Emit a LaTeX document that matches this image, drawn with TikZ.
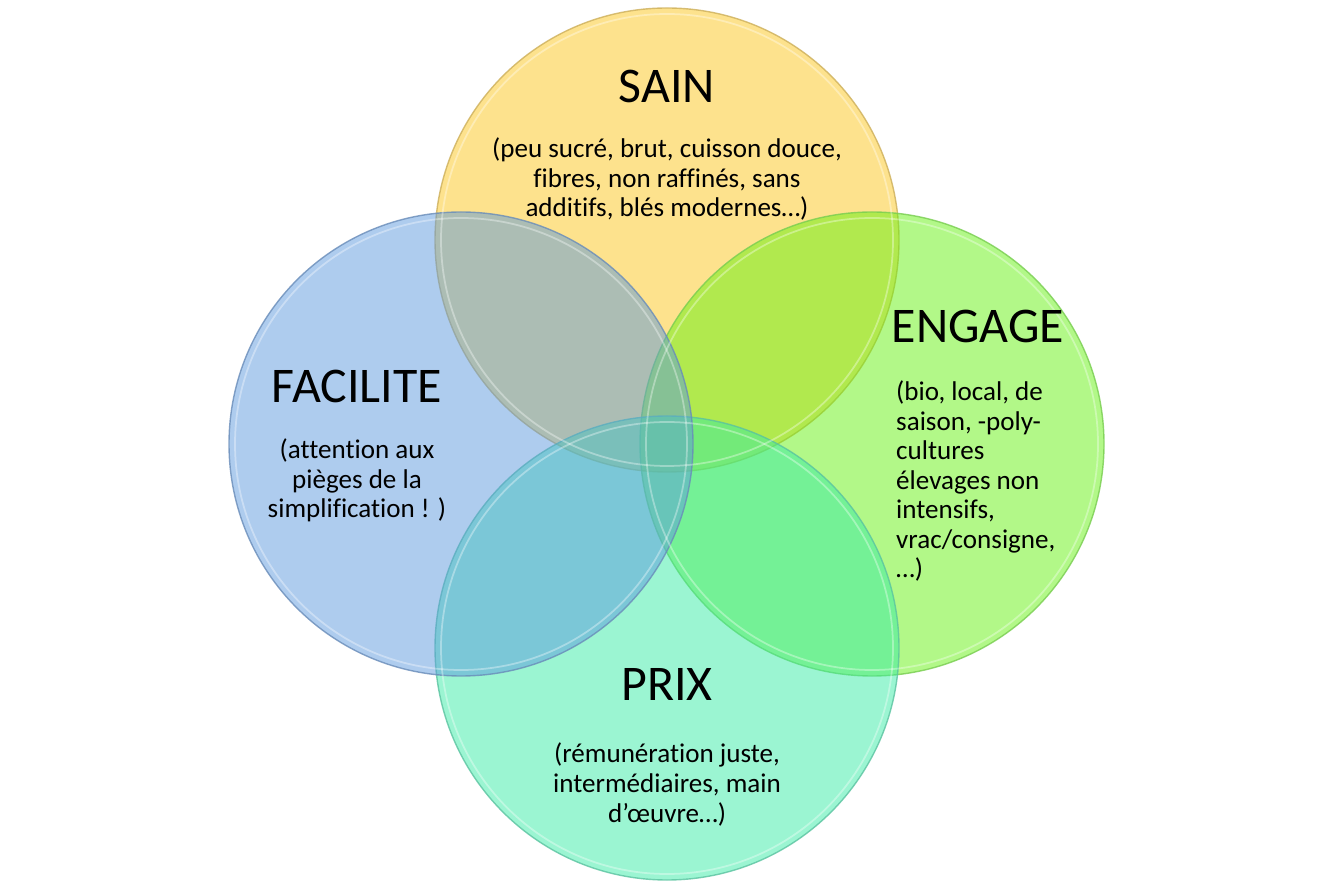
\documentclass[tikz,border=0pt]{standalone}
\usepackage{fontspec}
\setmainfont{Carlito}[Ligatures=NoCommon]
\usepackage{tikz}

\definecolor{sainfill}{RGB}{251,198,28}
\definecolor{sainline}{RGB}{205,175,90}
\definecolor{facfill}{RGB}{93,153,221}
\definecolor{facline}{RGB}{105,140,185}
\definecolor{engfill}{RGB}{101,241,17}
\definecolor{engline}{RGB}{120,205,80}
\definecolor{prixfill}{RGB}{55,235,165}
\definecolor{prixline}{RGB}{90,195,160}

\tikzset{
    bulle/.style={circle, minimum size=9.28cm, inner sep=0pt, fill opacity=0.5, draw opacity=0.8, line width=0.8pt},
    titre/.style={font=\fontsize{28.4}{33}\selectfont, anchor=base},
    detail/.style={font=\fontsize{15.4}{16.8}\selectfont, anchor=base, align=center}
}

\begin{document}
\begin{tikzpicture}
            \useasboundingbox (0,0) rectangle (26.68,17.78);
            \begin{scope}[every node/.style={bulle}]
                \node[fill=sainfill, draw=sainline] (sain) at (13.34,12.98) {};
                \node[fill=engfill, draw=engline] (engage) at (17.44,8.9) {};
                \node[fill=prixfill, draw=prixline] (prix) at (13.34,4.82) {};
                \node[fill=facfill, draw=facline] (facilite) at (9.22,8.9) {};
            \end{scope}
            \foreach \n in {sain,engage,prix,facilite}
                \draw[white, draw opacity=0.35, line width=1pt] (\n.center) circle (4.52cm);

            \node[titre] (tsain) at (13.34,15.72) {SAIN};
            \node[titre] (tfacilite) at (7.14,9.72) {FACILITE};
            \node[titre] (tengage) at (19.56,10.92) {ENGAGE};
            \node[titre] (tprix) at (13.34,3.78) {PRIX};

            \node[detail] (dsain) at (13.34,13.44) {(peu sucré, brut, cuisson douce,\\fibres, non raffinés, sans\\additifs, blés modernes…)};
            \node[detail] (dfacilite) at (7.14,7.42) {(attention aux\\pièges de la\\simplification ! )};
            \node[detail, align=left, anchor=base west] (dengage) at (17.8,6.22) {(bio, local, de\\saison, -poly-\\cultures\\élevages non\\intensifs,\\vrac/consigne,\\…)};
            \node[detail] (dprix) at (13.34,1.34) {(rémunération juste,\\intermédiaires, main\\d’œuvre…)};
        \end{tikzpicture}
\end{document}
